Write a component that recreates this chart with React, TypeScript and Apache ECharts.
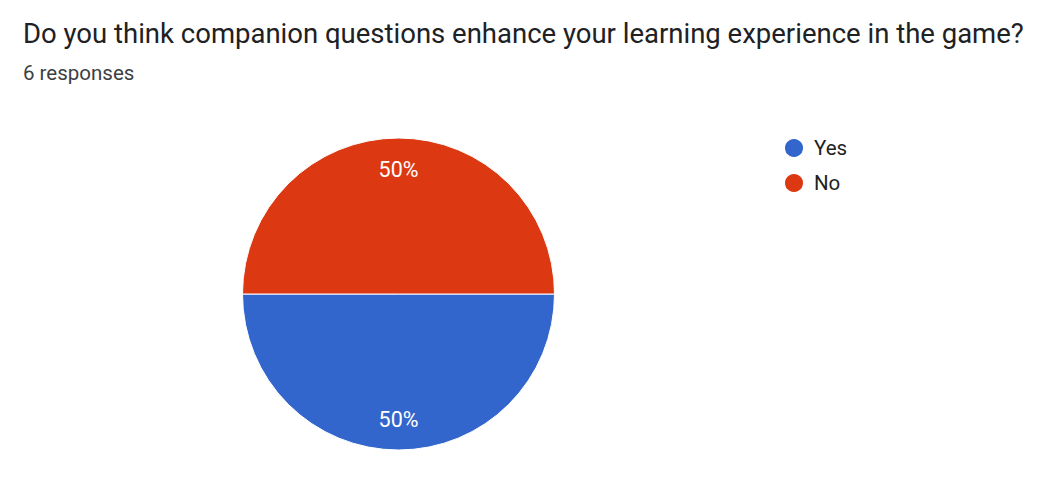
import React, { useEffect, useRef } from "react";
import * as echarts from "echarts";

const titleText = "Do you think companion questions enhance your learning experience in the game?";
const subtitleText = "6 responses";
const categories = ["Yes", "No"];
const counts = [3, 3];
const colors = ["#3366cc", "#dc3912"];

export default function App() {
  const ref = useRef<HTMLDivElement>(null);
  useEffect(() => {
    if (!ref.current) return;
    const chart = echarts.init(ref.current, undefined, { renderer: "svg" });
    const data = categories.map((c, i) => ({ name: c, value: counts[i], itemStyle: { color: colors[i] } }));
    chart.setOption({
      animation: false,
      textStyle: { fontFamily: "Roboto" },
      title: [
        {
          text: titleText,
          left: 18,
          top: 14,
          textStyle: { fontFamily: "Roboto", fontSize: 27.5, fontWeight: "normal", color: "#202124" },
        },
        {
          text: subtitleText,
          left: 18,
          top: 57,
          textStyle: { fontFamily: "Roboto", fontSize: 20.5, fontWeight: "normal", color: "#3c4043" },
        },
      ],
      legend: {
        orient: "vertical",
        left: 778,
        top: 132,
        icon: "circle",
        itemWidth: 20,
        itemHeight: 20,
        itemGap: 13,
        textStyle: { fontFamily: "Roboto", fontSize: 20.5, color: "#222222", padding: [0, 0, 0, 5] },
        data: categories,
      },
      series: [
        {
          type: "pie",
          center: [398.5, 294],
          radius: [0, 156],
          startAngle: 0,
          clockwise: true,
          label: { show: false },
          labelLine: { show: false },
          itemStyle: { borderColor: "#ffffff", borderWidth: 1 },
          silent: true,
          data,
        },
        {
          type: "pie",
          center: [398.5, 294],
          radius: [88, 156],
          startAngle: 0,
          clockwise: true,
          silent: true,
          legendHoverLink: false,
          label: {
            show: true,
            position: "inside",
            formatter: (p: any) => Math.round(p.percent) + "%",
            color: "#ffffff",
            fontFamily: "Roboto",
            fontSize: 21.5,
          },
          labelLine: { show: false },
          itemStyle: { color: "transparent", borderWidth: 0 },
          data: categories.map((c, i) => ({ name: c + " ", value: counts[i] })),
        },
      ],
    });
    return () => chart.dispose();
  }, []);
  return <div ref={ref} style={{ position: "fixed", left: 0, top: 0, width: 1053, height: 493, background: "#fff" }} />;
}
